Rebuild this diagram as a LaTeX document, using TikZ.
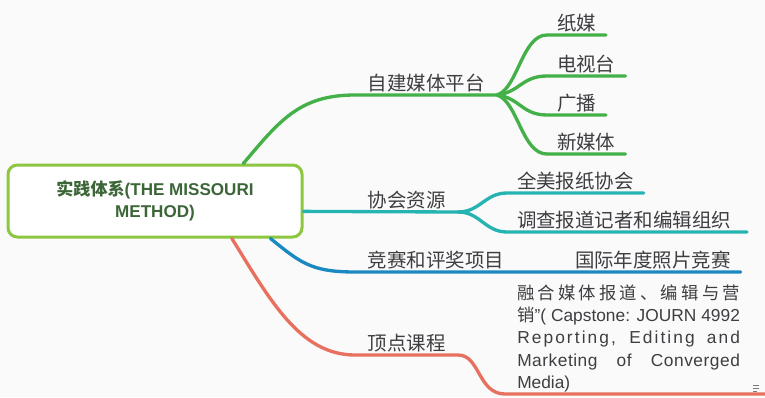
\documentclass[tikz,border=0pt]{standalone}
\usepackage{fontspec}
\setmainfont{Liberation Sans}
\newfontfamily\cjk{Noto Sans CJK SC}
\definecolor{bgcol}{RGB}{250,250,250}
\definecolor{txtgray}{RGB}{62,62,66}
\definecolor{rootgreen}{RGB}{60,102,56}
\definecolor{limeborder}{RGB}{141,198,63}
\definecolor{greenbr}{RGB}{67,176,72}
\definecolor{tealbr}{RGB}{38,180,178}
\definecolor{bluebr}{RGB}{27,137,193}
\definecolor{redbr}{RGB}{232,112,95}
\newcommand{\jline}[1]{\makebox[167pt][s]{#1}}

\begin{document}
\begin{tikzpicture}[x=0.75pt,y=0.75pt,yscale=-1,xscale=1,
  rootbox/.style={draw=limeborder,line width=2.25pt,rounded corners=7pt,fill=white,
    minimum width=220.5pt,minimum height=54pt,align=center,text=rootgreen,
    font=\bfseries\fontsize{12.8pt}{17pt}\selectfont},
  mainlbl/.style={anchor=south west,inner xsep=9.5pt,inner ysep=2.4pt,outer sep=0pt,
    text height=0.88em,text depth=0.12em,text=txtgray,
    font=\cjk\fontsize{14.6pt}{17pt}\selectfont},
  sublbl/.style={mainlbl,inner xsep=7.5pt},
  notetxt/.style={anchor=south west,inner sep=0pt,align=left,text=txtgray,
    font=\fontsize{13pt}{16.6pt}\selectfont},
  branch/.style={line width=2.5pt,line cap=round},
  greenline/.style={branch,draw=greenbr},
  tealline/.style={branch,draw=tealbr},
  blueline/.style={branch,draw=bluebr},
  redline/.style={branch,draw=redbr}]
%set diagram size
\fill[bgcol] (0,0) rectangle (765,397);
\useasboundingbox (0,0) rectangle (765,397);

% Root
\node[rootbox] (root) at (155,201) {{\cjk\bfseries 实践体系}(THE MISSOURI\\METHOD)};

% Green branch
\node[mainlbl] (zjmt) at (355,95) {自建媒体平台};
\node[sublbl] (zm) at (547,35) {纸媒};
\node[sublbl] (dst) at (547,76) {电视台};
\node[sublbl] (gb) at (547,115) {广播};
\node[sublbl] (xmt) at (547,154) {新媒体};
\draw[greenline] (root.23) .. controls (280,120) and (300,95) .. (zjmt.south west) -- (zjmt.south east);
\draw[greenline] (zjmt.south east) .. controls (518,88) and (522,35) .. (zm.south west) -- (zm.south east);
\draw[greenline] (zjmt.south east) .. controls (520,92) and (522,76) .. (dst.south west) -- (dst.south east);
\draw[greenline] (zjmt.south east) .. controls (520,98) and (522,115) .. (gb.south west) -- (gb.south east);
\draw[greenline] (zjmt.south east) .. controls (518,102) and (522,154) .. (xmt.south west) -- (xmt.south east);

% Teal branch
\node[mainlbl] (xhzy) at (355,212) {协会资源};
\node[sublbl] (qmbz) at (507,193) {全美报纸协会};
\node[sublbl] (dcbd) at (507,232) {调查报道记者和编辑组织};
\draw[tealline] (root.-4.3) -- (xhzy.south east);
\draw[tealline] (xhzy.south east) .. controls (480,212) and (485,193) .. (qmbz.south west) -- (qmbz.south east);
\draw[tealline] (xhzy.south east) .. controls (480,212) and (485,232) .. (dcbd.south west) -- ++(240,0);

% Blue branch
\node[mainlbl] (jsps) at (355,272) {竞赛和评奖项目};
\node[sublbl] (gjnd) at (565,272) {国际年度照片竞赛};
\draw[blueline] (root.-18.4) .. controls (300,262) and (310,272) .. (jsps.south west) -- (jsps.south east) -- (gjnd.south west) -- (gjnd.south east);

% Red branch
\node[mainlbl] (ddkc) at (355,355) {顶点课程};
\coordinate (rl) at (505,394);
\coordinate (rr) at (765,394);
\node[notetxt] (rhmt) at (517,392) {\jline{\cjk 融\hfill 合\hfill 媒\hfill 体\hfill 报\hfill 道\hfill 、\hfill 编\hfill 辑\hfill 与\hfill 营}\\
  \jline{{\cjk 销}”( Capstone: JOURN 4992}\\
  \jline{\addfontfeature{LetterSpace=12}Reporting, Editing and}\\
  \jline{\addfontfeature{LetterSpace=3}Marketing of Converged}\\
  Media)};
\draw[redline] (root.-26.3) .. controls (270,300) and (300,355) .. (ddkc.south west) -- (ddkc.south east) .. controls (480,355) and (478,394) .. (rl) -- (rr);

% note mark
\foreach \yy/\len in {385/6,388/6,391/4}
  \draw[txtgray!70,line width=0.7pt] (753,\yy) -- ++(\len,0);

\end{tikzpicture}
\end{document}
